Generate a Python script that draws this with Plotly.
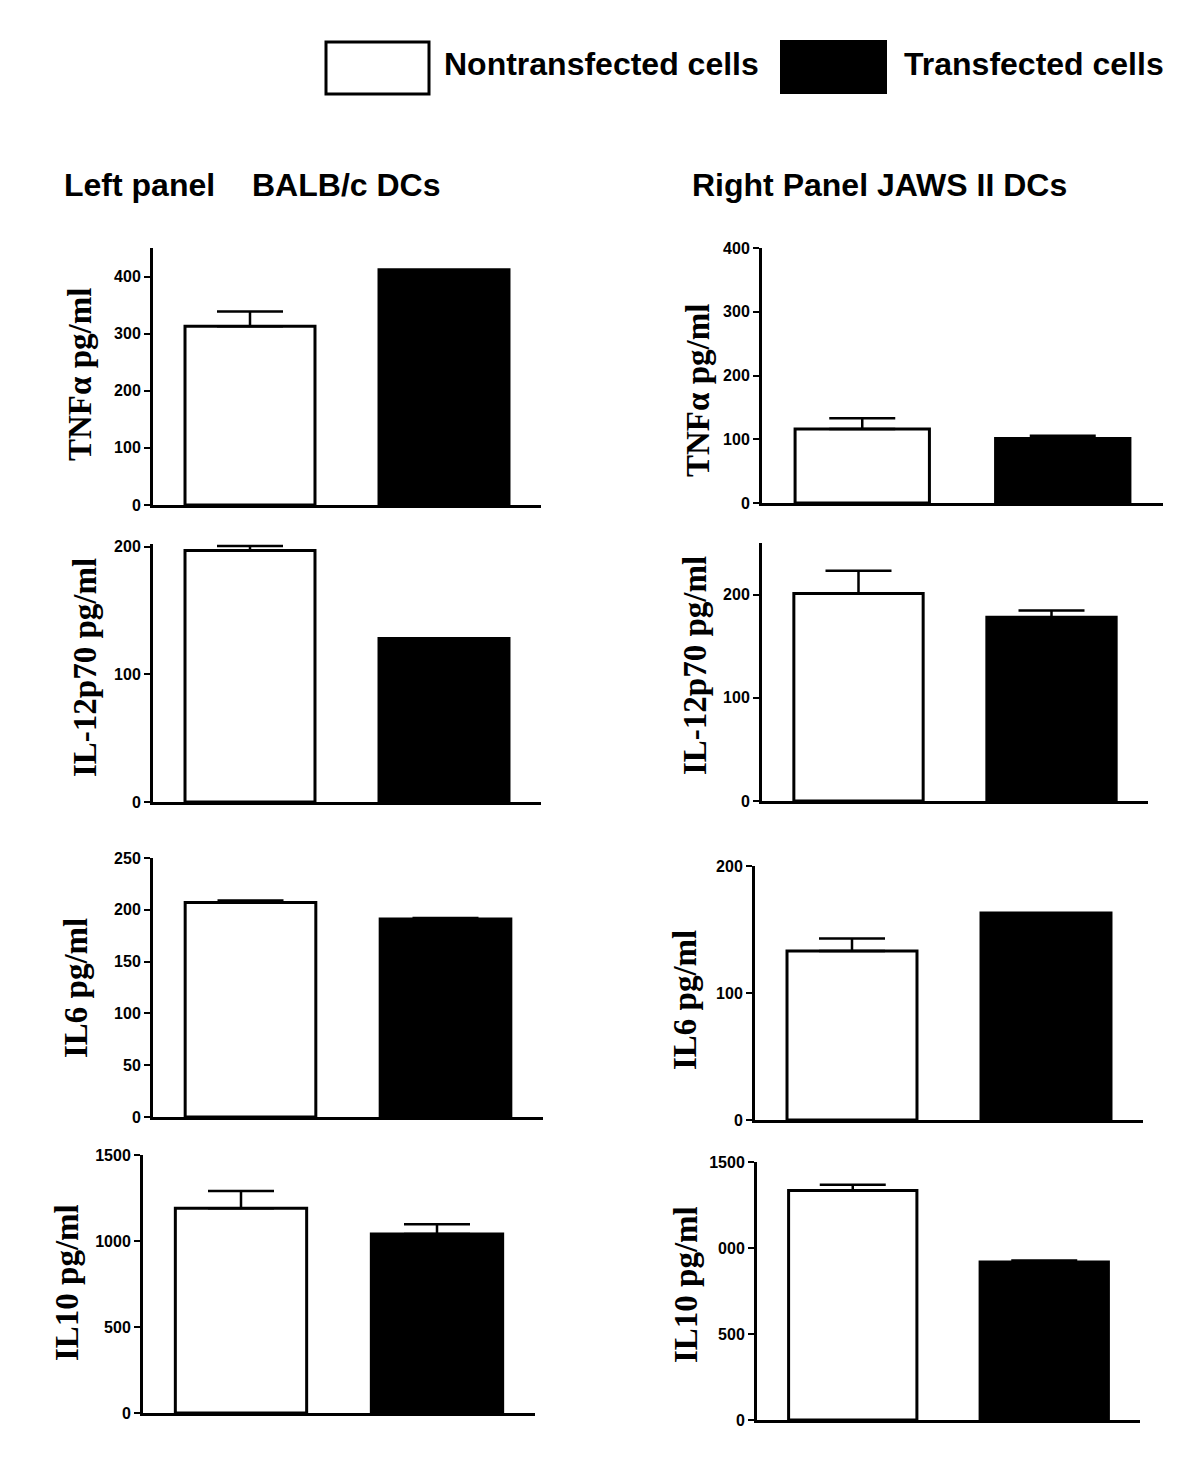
import plotly.graph_objects as go

W, H = 1200, 1463

groups = ["Nontransfected cells", "Transfected cells"]

# ---- data (pg/ml), mean and upper error ----
left_tnf = [313, 412]
left_tnf_err = [26, 0]
left_il12 = [197, 128]
left_il12_err = [3.5, 0]
left_il6 = [207, 191]
left_il6_err = [2, 1]
left_il10 = [1190, 1041]
left_il10_err = [100, 56]

right_tnf = [116, 101]
right_tnf_err = [17, 4.5]
right_il12 = [201, 178]
right_il12_err = [22, 6.5]
right_il6 = [133, 163]
right_il6_err = [10, 0]
right_il10 = [1335, 918]
right_il10_err = [33, 9]

# tick values / labels
ticks_tnf_l = [0, 100, 200, 300, 400]
ticks_tnf_r = [0, 100, 200, 300, 400]
ticks_il12_l = [0, 100, 200]
ticks_il12_r = [0, 100, 200]
ticks_il6_l = [0, 50, 100, 150, 200, 250]
ticks_il6_r = [0, 100, 200]
ticks_il10_l = [0, 500, 1000, 1500]
ticks_il10_r = [0, 500, 1000, 1500]
ticktext_il10_r = ["0", "500", "000", "1500"]

titles = {
    "tnf": "TNF\u03b1 pg/ml",
    "il12": "IL-12p70 pg/ml",
    "il6": "IL6 pg/ml",
    "il10": "IL10 pg/ml",
}

# panel layout: (values, errs, ticks, ticktext, ymax, title, axis_x_px, end_x_px, zero_y_px, top_y_px, title_x_px, title_y_px)
panels = [
    (left_tnf, left_tnf_err, ticks_tnf_l, None, 450, titles["tnf"], 153, 541, 505, 248, 80, 375),
    (right_tnf, right_tnf_err, ticks_tnf_r, None, 400, titles["tnf"], 762, 1163, 503, 248, 698, 391),
    (left_il12, left_il12_err, ticks_il12_l, None, 202, titles["il12"], 153, 541, 802, 544, 85, 668),
    (right_il12, right_il12_err, ticks_il12_r, None, 250, titles["il12"], 762, 1148, 801, 543, 695, 666),
    (left_il6, left_il6_err, ticks_il6_l, None, 250, titles["il6"], 153, 543, 1117, 858, 76, 988),
    (right_il6, right_il6_err, ticks_il6_r, None, 200, titles["il6"], 755, 1143, 1120, 866, 685, 1000),
    (left_il10, left_il10_err, ticks_il10_l, None, 1500, titles["il10"], 143, 535, 1413, 1155, 67, 1283),
    (right_il10, right_il10_err, ticks_il10_r, ticktext_il10_r, 1500, titles["il10"], 757, 1140, 1420, 1162, 686, 1285),
]

fig = go.Figure()
annotations = []
tickfont = dict(family="Liberation Sans, Arial, sans-serif", size=16, color="black", weight="bold")

for i, (vals, errs, tv, tt, ymax, title, ax_x, end_x, zero_y, top_y, tx, ty) in enumerate(panels):
    n = i + 1
    xa = "x" if n == 1 else f"x{n}"
    ya = "y" if n == 1 else f"y{n}"
    for j, g in enumerate(groups):
        fill = "white" if j == 0 else "black"
        fig.add_trace(go.Bar(
            x=[j], y=[vals[j]], name=g, width=0.67,
            marker=dict(color=fill, line=dict(color="black", width=3)),
            error_y=dict(type="data", symmetric=False, array=[errs[j]], arrayminus=[0],
                         color="black", thickness=2.5, width=33, visible=errs[j] > 0),
            xaxis=xa, yaxis=ya, showlegend=False, hoverinfo="skip",
        ))
    xkey = "xaxis" if n == 1 else f"xaxis{n}"
    ykey = "yaxis" if n == 1 else f"yaxis{n}"
    fig.layout[xkey] = dict(
        domain=[ax_x / W, end_x / W], range=[-0.5, 1.5], anchor=ya,
        showline=True, linecolor="black", linewidth=3, showgrid=False,
        zeroline=False, showticklabels=False, ticks="", fixedrange=True, automargin=False,
    )
    ydict = dict(
        domain=[1 - zero_y / H, 1 - top_y / H], range=[0, ymax], anchor=xa,
        showline=True, linecolor="black", linewidth=3, showgrid=False, zeroline=False,
        ticks="outside", ticklen=6, tickwidth=2, tickcolor="black",
        tickvals=tv, tickfont=tickfont, ticklabelstandoff=0, automargin=False,
        fixedrange=True,
    )
    if tt is not None:
        ydict["ticktext"] = tt
    fig.layout[ykey] = ydict
    annotations.append(dict(
        text=f"<b>{title}</b>", x=tx / W, y=1 - ty / H, xref="paper", yref="paper",
        textangle=-90, showarrow=False, xanchor="center", yanchor="middle",
        font=dict(family="Liberation Serif, Times New Roman, serif", size=33, color="black"),
    ))

# headers
hfont = dict(family="Liberation Sans, Arial, sans-serif", size=32, color="black")
annotations.append(dict(text="<b>Left panel</b>", x=62 / W, y=1 - 185 / H, xref="paper", yref="paper",
                        showarrow=False, xanchor="left", yanchor="middle", font=hfont))
annotations.append(dict(text="<b>BALB/c DCs</b>", x=250 / W, y=1 - 185 / H, xref="paper", yref="paper",
                        showarrow=False, xanchor="left", yanchor="middle", font=hfont))
annotations.append(dict(text="<b>Right Panel JAWS II DCs</b>", x=690 / W, y=1 - 185 / H, xref="paper", yref="paper",
                        showarrow=False, xanchor="left", yanchor="middle", font=hfont))

# legend (drawn manually)
shapes = [
    dict(type="rect", xref="paper", yref="paper", x0=326 / W, x1=429 / W, y0=1 - 94 / H, y1=1 - 42 / H,
         line=dict(color="black", width=3), fillcolor="white"),
    dict(type="rect", xref="paper", yref="paper", x0=781 / W, x1=886 / W, y0=1 - 93 / H, y1=1 - 41 / H,
         line=dict(color="black", width=2), fillcolor="black"),
]
annotations.append(dict(text=f"<b>{groups[0]}</b>", x=442 / W, y=1 - 64 / H, xref="paper", yref="paper",
                        showarrow=False, xanchor="left", yanchor="middle", font=hfont))
annotations.append(dict(text=f"<b>{groups[1]}</b>", x=902 / W, y=1 - 64 / H, xref="paper", yref="paper",
                        showarrow=False, xanchor="left", yanchor="middle", font=hfont))

fig.update_layout(
    width=W, height=H, margin=dict(l=0, r=0, t=0, b=0, pad=0, autoexpand=False),
    paper_bgcolor="white", plot_bgcolor="white",
    annotations=annotations, shapes=shapes, barmode="group", showlegend=False,
)

fig.write_html("out.html", config={"displayModeBar": False},
               post_script="document.body.style.margin='0';document.body.style.overflow='hidden';")
